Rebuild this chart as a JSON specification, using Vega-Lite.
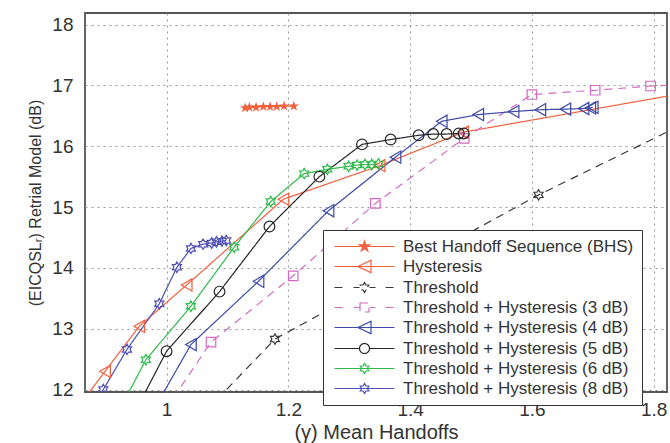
{
  "$schema": "https://vega.github.io/schema/vega-lite/v6.json",
  "width": 582,
  "height": 379,
  "autosize": {"type": "none"},
  "padding": {"left": 85, "top": 13, "right": 3, "bottom": 51},
  "background": "white",
  "config": {
    "view": {"stroke": "#555", "strokeWidth": 1.8},
    "font": "Liberation Sans",
    "axis": {
      "grid": true, "gridDash": [2, 4], "gridColor": "#999", "gridWidth": 1,
      "domain": false, "ticks": false,
      "labelFont": "Liberation Sans", "labelFontSize": 19, "labelColor": "#333",
      "titleFont": "Liberation Sans", "titleFontWeight": "normal", "titleColor": "#333"
    },
    "legend": {
      "padding": 8, "strokeColor": "#333", "fillColor": "white",
      "labelFont": "Liberation Sans", "labelFontSize": 17, "labelColor": "#333",
      "labelOffset": 55, "rowPadding": 2, "symbolSize": 100, "symbolStrokeWidth": 1.2,
      "labelLimit": 400
    }
  },
  "data": {
    "values": [
      {"series": "Best Handoff Sequence (BHS)", "x": 1.129, "y": 16.63},
      {"series": "Best Handoff Sequence (BHS)", "x": 1.136, "y": 16.64},
      {"series": "Best Handoff Sequence (BHS)", "x": 1.147, "y": 16.64},
      {"series": "Best Handoff Sequence (BHS)", "x": 1.159, "y": 16.65},
      {"series": "Best Handoff Sequence (BHS)", "x": 1.170, "y": 16.65},
      {"series": "Best Handoff Sequence (BHS)", "x": 1.181, "y": 16.65},
      {"series": "Best Handoff Sequence (BHS)", "x": 1.193, "y": 16.66},
      {"series": "Best Handoff Sequence (BHS)", "x": 1.209, "y": 16.66},

      {"series": "Hysteresis", "x": 0.865, "y": 11.85},
      {"series": "Hysteresis", "x": 0.899, "y": 12.30},
      {"series": "Hysteresis", "x": 0.955, "y": 13.04},
      {"series": "Hysteresis", "x": 1.033, "y": 13.72},
      {"series": "Hysteresis", "x": 1.192, "y": 15.13},
      {"series": "Hysteresis", "x": 1.350, "y": 15.68},
      {"series": "Hysteresis", "x": 1.487, "y": 16.23},
      {"series": "Hysteresis", "x": 1.900, "y": 16.96},

      {"series": "Threshold", "x": 1.067, "y": 11.67},
      {"series": "Threshold", "x": 1.178, "y": 12.83},
      {"series": "Threshold", "x": 1.611, "y": 15.20},
      {"series": "Threshold", "x": 1.850, "y": 16.37},

      {"series": "Threshold + Hysteresis (3 dB)", "x": 0.998, "y": 11.67},
      {"series": "Threshold + Hysteresis (3 dB)", "x": 1.073, "y": 12.78},
      {"series": "Threshold + Hysteresis (3 dB)", "x": 1.208, "y": 13.87},
      {"series": "Threshold + Hysteresis (3 dB)", "x": 1.343, "y": 15.06},
      {"series": "Threshold + Hysteresis (3 dB)", "x": 1.489, "y": 16.13},
      {"series": "Threshold + Hysteresis (3 dB)", "x": 1.600, "y": 16.85},
      {"series": "Threshold + Hysteresis (3 dB)", "x": 1.704, "y": 16.92},
      {"series": "Threshold + Hysteresis (3 dB)", "x": 1.795, "y": 16.99},
      {"series": "Threshold + Hysteresis (3 dB)", "x": 1.860, "y": 17.02},

      {"series": "Threshold + Hysteresis (4 dB)", "x": 0.979, "y": 11.67},
      {"series": "Threshold + Hysteresis (4 dB)", "x": 1.040, "y": 12.74},
      {"series": "Threshold + Hysteresis (4 dB)", "x": 1.151, "y": 13.78},
      {"series": "Threshold + Hysteresis (4 dB)", "x": 1.266, "y": 14.94},
      {"series": "Threshold + Hysteresis (4 dB)", "x": 1.376, "y": 15.82},
      {"series": "Threshold + Hysteresis (4 dB)", "x": 1.452, "y": 16.41},
      {"series": "Threshold + Hysteresis (4 dB)", "x": 1.512, "y": 16.52},
      {"series": "Threshold + Hysteresis (4 dB)", "x": 1.570, "y": 16.57},
      {"series": "Threshold + Hysteresis (4 dB)", "x": 1.614, "y": 16.60},
      {"series": "Threshold + Hysteresis (4 dB)", "x": 1.655, "y": 16.61},
      {"series": "Threshold + Hysteresis (4 dB)", "x": 1.685, "y": 16.62},
      {"series": "Threshold + Hysteresis (4 dB)", "x": 1.696, "y": 16.63},
      {"series": "Threshold + Hysteresis (4 dB)", "x": 1.700, "y": 16.64},

      {"series": "Threshold + Hysteresis (5 dB)", "x": 0.950, "y": 11.67},
      {"series": "Threshold + Hysteresis (5 dB)", "x": 1.000, "y": 12.63},
      {"series": "Threshold + Hysteresis (5 dB)", "x": 1.087, "y": 13.61},
      {"series": "Threshold + Hysteresis (5 dB)", "x": 1.169, "y": 14.68},
      {"series": "Threshold + Hysteresis (5 dB)", "x": 1.251, "y": 15.50},
      {"series": "Threshold + Hysteresis (5 dB)", "x": 1.321, "y": 16.03},
      {"series": "Threshold + Hysteresis (5 dB)", "x": 1.368, "y": 16.11},
      {"series": "Threshold + Hysteresis (5 dB)", "x": 1.414, "y": 16.18},
      {"series": "Threshold + Hysteresis (5 dB)", "x": 1.438, "y": 16.20},
      {"series": "Threshold + Hysteresis (5 dB)", "x": 1.460, "y": 16.20},
      {"series": "Threshold + Hysteresis (5 dB)", "x": 1.480, "y": 16.21},
      {"series": "Threshold + Hysteresis (5 dB)", "x": 1.488, "y": 16.21},

      {"series": "Threshold + Hysteresis (6 dB)", "x": 0.923, "y": 11.67},
      {"series": "Threshold + Hysteresis (6 dB)", "x": 0.966, "y": 12.49},
      {"series": "Threshold + Hysteresis (6 dB)", "x": 1.040, "y": 13.37},
      {"series": "Threshold + Hysteresis (6 dB)", "x": 1.111, "y": 14.34},
      {"series": "Threshold + Hysteresis (6 dB)", "x": 1.171, "y": 15.09},
      {"series": "Threshold + Hysteresis (6 dB)", "x": 1.226, "y": 15.55},
      {"series": "Threshold + Hysteresis (6 dB)", "x": 1.264, "y": 15.62},
      {"series": "Threshold + Hysteresis (6 dB)", "x": 1.299, "y": 15.67},
      {"series": "Threshold + Hysteresis (6 dB)", "x": 1.313, "y": 15.69},
      {"series": "Threshold + Hysteresis (6 dB)", "x": 1.326, "y": 15.70},
      {"series": "Threshold + Hysteresis (6 dB)", "x": 1.337, "y": 15.70},
      {"series": "Threshold + Hysteresis (6 dB)", "x": 1.348, "y": 15.71},

      {"series": "Threshold + Hysteresis (8 dB)", "x": 0.877, "y": 11.67},
      {"series": "Threshold + Hysteresis (8 dB)", "x": 0.896, "y": 12.00},
      {"series": "Threshold + Hysteresis (8 dB)", "x": 0.935, "y": 12.66},
      {"series": "Threshold + Hysteresis (8 dB)", "x": 0.988, "y": 13.41},
      {"series": "Threshold + Hysteresis (8 dB)", "x": 1.017, "y": 14.01},
      {"series": "Threshold + Hysteresis (8 dB)", "x": 1.040, "y": 14.32},
      {"series": "Threshold + Hysteresis (8 dB)", "x": 1.060, "y": 14.39},
      {"series": "Threshold + Hysteresis (8 dB)", "x": 1.074, "y": 14.41},
      {"series": "Threshold + Hysteresis (8 dB)", "x": 1.082, "y": 14.43},
      {"series": "Threshold + Hysteresis (8 dB)", "x": 1.091, "y": 14.44},
      {"series": "Threshold + Hysteresis (8 dB)", "x": 1.098, "y": 14.45}
    ]
  },
  "encoding": {
    "x": {
      "field": "x", "type": "quantitative",
      "scale": {"domain": [0.866, 1.822], "nice": false, "zero": false},
      "axis": {"values": [1, 1.2, 1.4, 1.6, 1.8], "format": "~g", "title": "(γ) Mean Handoffs",
               "labelPadding": 8, "titleFontSize": 20, "titlePadding": 3}
    },
    "y": {
      "field": "y", "type": "quantitative",
      "scale": {"domain": [11.96, 18.19], "nice": false, "zero": false},
      "axis": {"values": [12, 13, 14, 15, 16, 17, 18], "format": "d", "title": "(EICQSLᵣ) Retrial Model (dB)",
               "labelPadding": 12, "titleFontSize": 16, "titlePadding": 8}
    },
    "color": {
      "field": "series", "type": "nominal",
      "scale": {
        "domain": ["Best Handoff Sequence (BHS)", "Hysteresis", "Threshold", "Threshold + Hysteresis (3 dB)", "Threshold + Hysteresis (4 dB)", "Threshold + Hysteresis (5 dB)", "Threshold + Hysteresis (6 dB)", "Threshold + Hysteresis (8 dB)"],
        "range": ["#f2603f", "#f2603f", "#3a3a3a", "#d26bc3", "#3c4aa8", "#262626", "#2dbb4a", "#4f4fb5"]
      },
      "legend": {"title": null, "orient": "none", "legendX": 238, "legendY": 217}
    }
  },
  "layer": [
    {
      "mark": {"type": "line", "clip": true, "strokeWidth": 1.2},
      "encoding": {
        "strokeDash": {
          "field": "series", "type": "nominal",
          "scale": {
            "domain": ["Best Handoff Sequence (BHS)", "Hysteresis", "Threshold", "Threshold + Hysteresis (3 dB)", "Threshold + Hysteresis (4 dB)", "Threshold + Hysteresis (5 dB)", "Threshold + Hysteresis (6 dB)", "Threshold + Hysteresis (8 dB)"],
            "range": [[1, 0], [1, 0], [8, 6], [8, 6], [1, 0], [1, 0], [1, 0], [1, 0]]
          },
          "legend": null
        }
      }
    },
    {
      "transform": [{"filter": "datum.series == 'Best Handoff Sequence (BHS)'"}],
      "mark": {"type": "point", "clip": true, "filled": true, "opacity": 1, "size": 120,
               "shape": "M0,-1L0.225,-0.309L0.951,-0.309L0.363,0.118L0.588,0.809L0,0.382L-0.588,0.809L-0.363,0.118L-0.951,-0.309L-0.225,-0.309Z"},
      "encoding": {"color": {"value": "#f2603f"}}
    },
    {
      "transform": [{"filter": "datum.series == 'Hysteresis' || datum.series == 'Threshold + Hysteresis (4 dB)'"}],
      "mark": {"type": "point", "clip": true, "filled": false, "opacity": 1, "size": 150, "strokeWidth": 1.2, "shape": "triangle-left"}
    },
    {
      "transform": [{"filter": "datum.series == 'Threshold' || datum.series == 'Threshold + Hysteresis (6 dB)' || datum.series == 'Threshold + Hysteresis (8 dB)'"}],
      "mark": {"type": "point", "clip": true, "filled": false, "opacity": 1, "size": 110, "strokeWidth": 1.2,
               "shape": "M0,-1L0.289,-0.5L0.866,-0.5L0.577,0L0.866,0.5L0.289,0.5L0,1L-0.289,0.5L-0.866,0.5L-0.577,0L-0.866,-0.5L-0.289,-0.5Z"}
    },
    {
      "transform": [{"filter": "datum.series == 'Threshold + Hysteresis (3 dB)'"}],
      "mark": {"type": "point", "clip": true, "filled": false, "opacity": 1, "size": 90, "strokeWidth": 1.2, "shape": "square"}
    },
    {
      "transform": [{"filter": "datum.series == 'Threshold + Hysteresis (5 dB)'"}],
      "mark": {"type": "point", "clip": true, "filled": false, "opacity": 1, "size": 115, "strokeWidth": 1.2, "shape": "circle"}
    },
    {
      "transform": [{"filter": "false"}],
      "mark": {"type": "point", "filled": false, "opacity": 1},
      "encoding": {
        "shape": {
          "field": "series", "type": "nominal",
          "scale": {
            "domain": ["Best Handoff Sequence (BHS)", "Hysteresis", "Threshold", "Threshold + Hysteresis (3 dB)", "Threshold + Hysteresis (4 dB)", "Threshold + Hysteresis (5 dB)", "Threshold + Hysteresis (6 dB)", "Threshold + Hysteresis (8 dB)"],
            "range": [
              "M-1,0L11,0M5,-1.1L5.247,-0.34L6.046,-0.34L5.399,0.13L5.647,0.89L5,0.42L4.353,0.89L4.601,0.13L3.954,-0.34L4.753,-0.34Z",
              "M-1,0L11,0M3.7,0L6.3,-1.25L6.3,1.25Z",
              "M-1,0L0.8,0M2.8,0L4,0M6,0L7.2,0M9.2,0L11,0M5,-1L5.289,-0.5L5.866,-0.5L5.577,0L5.866,0.5L5.289,0.5L5,1L4.711,0.5L4.134,0.5L4.423,0L4.134,-0.5L4.711,-0.5Z",
              "M-1,0L0.8,0M2.8,0L4,0M6,0L7.2,0M9.2,0L11,0M4.1,-0.9L5.9,-0.9L5.9,0.9L4.1,0.9Z",
              "M-1,0L11,0M3.7,0L6.3,-1.25L6.3,1.25Z",
              "M-1,0L4,0M6,0L11,0M6,0A1,1 0 1,1 4,0A1,1 0 1,1 6,0Z",
              "M-1,0L11,0M5,-1L5.289,-0.5L5.866,-0.5L5.577,0L5.866,0.5L5.289,0.5L5,1L4.711,0.5L4.134,0.5L4.423,0L4.134,-0.5L4.711,-0.5Z",
              "M-1,0L11,0M5,-1L5.289,-0.5L5.866,-0.5L5.577,0L5.866,0.5L5.289,0.5L5,1L4.711,0.5L4.134,0.5L4.423,0L4.134,-0.5L4.711,-0.5Z"
            ]
          },
          "legend": {"title": null, "orient": "none", "legendX": 238, "legendY": 217}
        },
        "fill": {
          "field": "series", "type": "nominal",
          "scale": {
            "domain": ["Best Handoff Sequence (BHS)", "Hysteresis", "Threshold", "Threshold + Hysteresis (3 dB)", "Threshold + Hysteresis (4 dB)", "Threshold + Hysteresis (5 dB)", "Threshold + Hysteresis (6 dB)", "Threshold + Hysteresis (8 dB)"],
            "range": ["#f2603f", "transparent", "transparent", "transparent", "transparent", "transparent", "transparent", "transparent"]
          },
          "legend": {"title": null, "orient": "none", "legendX": 238, "legendY": 217}
        }
      }
    }
  ]
}
